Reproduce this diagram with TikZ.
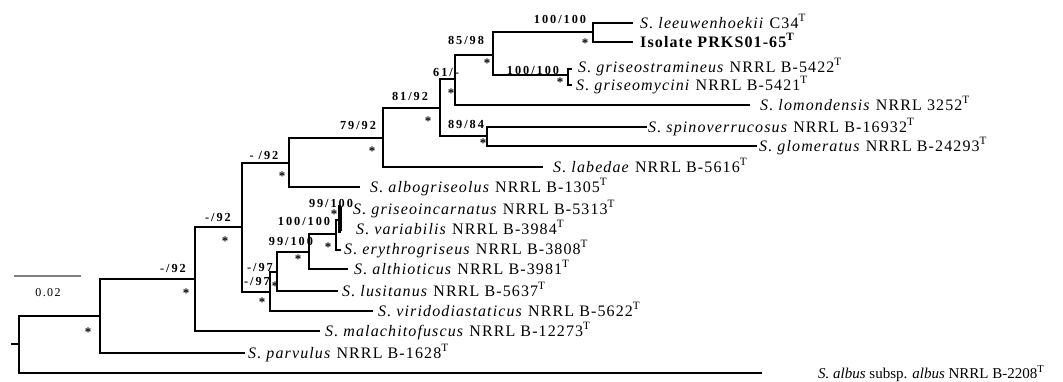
\documentclass[tikz,border=0pt]{standalone}
\usepackage{fontspec}
\setmainfont{Liberation Serif}
\newfontfamily\leaffont[LetterSpace=7]{Liberation Serif}
\newfontfamily\plainleaffont{Liberation Serif}
\newfontfamily\labfont[LetterSpace=16]{Liberation Serif}
\newfontfamily\scalefont[LetterSpace=12]{Liberation Serif}
\tikzset{
  leaf/.style={anchor=base west, inner sep=0pt, font=\leaffont\fontsize{16}{16}\selectfont},
  plainleaf/.style={anchor=base west, inner sep=0pt, font=\plainleaffont\fontsize{15}{16}\selectfont},
  bs/.style={inner sep=0pt, font=\labfont\bfseries\fontsize{12.3}{12}\selectfont},
  star/.style={inner sep=0pt, font=\bfseries\fontsize{13}{13}\selectfont},
  br/.style={line width=2.6pt},
  thickbr/.style={line width=4.5pt}
}
\begin{document}
\begin{tikzpicture}[x=1pt,y=-1pt]
\useasboundingbox (0,0) rectangle (1063,381);
% internal nodes
\coordinate (stub) at (11,344);
\coordinate (root) at (19,344);
\coordinate (A) at (100,316);
\coordinate (B) at (195,279);
\coordinate (C) at (242,227);
\coordinate (I) at (289,163);
\coordinate (J) at (383,138);
\coordinate (K) at (440,108);
\coordinate (M) at (455,79);
\coordinate (N) at (493,55);
\coordinate (O) at (593,32);
\coordinate (P) at (568,75);
\coordinate (L) at (487,136);
\coordinate (D) at (270,292);
\coordinate (E) at (277,272);
\coordinate (F) at (309,252);
\coordinate (G) at (336,234);
\coordinate (H) at (340,220);
% tips
\coordinate (l1) at (633,23);
\coordinate (l2) at (633,42);
\coordinate (l3) at (572,69);
\coordinate (l4) at (572,85);
\coordinate (l5) at (750,105);
\coordinate (l6) at (647,127);
\coordinate (l7) at (757,146);
\coordinate (l8) at (543,167);
\coordinate (l9) at (360,187);
\coordinate (l10) at (341,207);
\coordinate (l11) at (341,231);
\coordinate (l12) at (341,250);
\coordinate (l13) at (348,269);
\coordinate (l14) at (338,291);
\coordinate (l15) at (373,311);
\coordinate (l16) at (320,331);
\coordinate (l17) at (245,353);
\coordinate (l18) at (762,373);
% branches
\draw[br] (stub) -- (root);
\draw[br] (root) |- (A);
\draw[br] (root) |- (l18);
\draw[br] (A) |- (B);
\draw[br] (A) |- (l17);
\draw[br] (B) |- (C);
\draw[br] (B) |- (l16);
\draw[br] (C) |- (I);
\draw[br] (C) |- (D);
\draw[br] (I) |- (J);
\draw[br] (I) |- (l9);
\draw[br] (J) |- (K);
\draw[br] (J) |- (l8);
\draw[br] (K) |- (M);
\draw[br] (K) |- (L);
\draw[br] (L) |- (l6);
\draw[br] (L) |- (l7);
\draw[br] (M) |- (N);
\draw[br] (M) |- (l5);
\draw[br] (N) |- (O);
\draw[br] (N) |- (P);
\draw[br] (O) |- (l1);
\draw[br] (O) |- (l2);
\draw[br] (P) |- (l3);
\draw[br] (P) |- (l4);
\draw[br] (D) |- (E);
\draw[br] (D) |- (l15);
\draw[br] (E) |- (F);
\draw[br] (E) |- (l14);
\draw[br] (F) |- (G);
\draw[br] (F) |- (l13);
\draw[br] (G) |- (H);
\draw[br] (G) |- (l12);
\draw[thickbr] (H) |- (l10);
\draw[thickbr] (H) |- (l11);
% leaf labels
\node[leaf] (t1) at (640,28) {\textit{S. leeuwenhoekii} C34\textsuperscript{T}};
\node[leaf] (t2) at (640,47) {\textbf{Isolate PRKS01-65\textsuperscript{T}}};
\node[leaf] (t3) at (578,72) {\textit{S. griseostramineus} NRRL B-5422\textsuperscript{T}};
\node[leaf] (t4) at (576,90) {\textit{S. griseomycini} NRRL B-5421\textsuperscript{T}};
\node[leaf] (t5) at (760,110) {\textit{S. lomondensis} NRRL 3252\textsuperscript{T}};
\node[leaf] (t6) at (648,132) {\textit{S. spinoverrucosus} NRRL B-16932\textsuperscript{T}};
\node[leaf] (t7) at (759,151) {\textit{S. glomeratus} NRRL B-24293\textsuperscript{T}};
\node[leaf] (t8) at (553,172) {\textit{S. labedae} NRRL B-5616\textsuperscript{T}};
\node[leaf] (t9) at (370,192) {\textit{S. albogriseolus} NRRL B-1305\textsuperscript{T}};
\node[leaf] (t10) at (353,214) {\textit{S. griseoincarnatus} NRRL B-5313\textsuperscript{T}};
\node[leaf] (t11) at (356,234) {\textit{S. variabilis} NRRL B-3984\textsuperscript{T}};
\node[leaf] (t12) at (344,254) {\textit{S. erythrogriseus} NRRL B-3808\textsuperscript{T}};
\node[leaf] (t13) at (354,274) {\textit{S. althioticus} NRRL B-3981\textsuperscript{T}};
\node[leaf] (t14) at (342,296) {\textit{S. lusitanus} NRRL B-5637\textsuperscript{T}};
\node[leaf] (t15) at (378,316) {\textit{S. viridodiastaticus} NRRL B-5622\textsuperscript{T}};
\node[leaf] (t16) at (325,336) {\textit{S. malachitofuscus} NRRL B-12273\textsuperscript{T}};
\node[leaf] (t17) at (248,358) {\textit{S. parvulus} NRRL B-1628\textsuperscript{T}};
\node[plainleaf] (t18) at (818,378) {\textit{S. albus} subsp. \textit{albus} NRRL B-2208\textsuperscript{T}};
% support values
\node[bs] (s1) at (560,19) {100/100};
\node[star] (a1) at (585,43) {*};
\node[bs] (s2) at (466,40) {85/98};
\node[star] (a2) at (487,63) {*};
\node[bs] (s3) at (533,70) {100/100};
\node[star] (a3) at (560,82) {*};
\node[bs] (s4) at (446,72) {61/-};
\node[star] (a4) at (451,93) {*};
\node[bs] (s5) at (410,96) {81/92};
\node[star] (a5) at (428,121) {*};
\node[bs] (s6) at (466,124) {89/84};
\node[star] (a6) at (483,143) {*};
\node[bs] (s7) at (358,125) {79/92};
\node[star] (a7) at (372,151) {*};
\node[bs] (s8) at (264,155) {- /92};
\node[star] (a8) at (282,176) {*};
\node[bs] (s9) at (218,217) {-/92};
\node[star] (a9) at (225,241) {*};
\node[bs] (s10) at (173,268) {-/92};
\node[star] (a10) at (186,293) {*};
\node[star] (a11) at (88,332) {*};
\node[bs] (s12) at (331,203) {99/100};
\node[star] (a12) at (334,214) {*};
\node[bs] (s13) at (304,221) {100/100};
\node[star] (a13) at (328,247) {*};
\node[bs] (s14) at (291,241) {99/100};
\node[star] (a14) at (298,259) {*};
\node[bs] (s15) at (260,267) {-/97};
\node[bs] (s16) at (257,281) {-/97};
\node[star] (a15) at (275,286) {*};
\node[star] (a16) at (262,302) {*};
% scale bar
\coordinate (sb1) at (14,276);
\coordinate (sb2) at (81,276);
\draw[line width=1.2pt, gray] (sb1) -- (sb2);
\node[inner sep=0pt, font=\scalefont\fontsize{12}{12}\selectfont] (sbl) at (48,293) {0.02};
\end{tikzpicture}
\end{document}
